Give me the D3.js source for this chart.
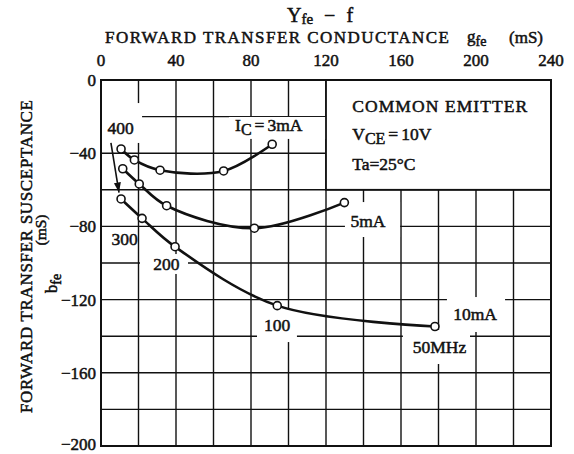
<!DOCTYPE html>
<html>
<head>
<meta charset="utf-8">
<script src="https://cdn.jsdelivr.net/npm/d3@7/dist/d3.min.js"></script>
<style>
    body { margin: 0; background: #fff; }
    text { font-family: 'Liberation Serif', 'Times New Roman', serif; fill: #111; stroke: #111; stroke-width: 0.5px; }
</style>
</head>
<body>
<svg id="chart" width="574" height="454"></svg>
<script>
// values (gfe, bfe in mS)
const gTicks = [0, 40, 80, 120, 160, 200, 240];
const bTicks = [0, -40, -80, -120, -160, -200];
const freqLabels = ['400', '300', '200', '100', '50MHz'];
const currents = ['3mA', '5mA', '10mA'];
const gfe3 = [10.7, 17.8, 31.5, 65.4, 91.3];
const bfe3 = [-37.7, -43.7, -49.3, -49.7, -35.1];
const gfe5 = [11.6, 20.4, 35.0, 81.8, 129.8];
const bfe5 = [-48.5, -56.8, -68.7, -81.0, -67.0];
const gfe10 = [10.7, 21.9, 39.5, 94.0, 178.1];
const bfe10 = [-65.0, -75.6, -91.1, -123.3, -134.7];

const series = [
    { name: currents[0], g: gfe3, b: bfe3 },
    { name: currents[1], g: gfe5, b: bfe5 },
    { name: currents[2], g: gfe10, b: bfe10 },
];

const svg = d3.select('#chart');
const x = d3.scaleLinear().domain([0, 240]).range([101, 551]);
const y = d3.scaleLinear().domain([0, -200]).range([80, 446]);

// grid every 20 mS
const grid = svg.append('g').attr('stroke', '#111').attr('stroke-width', 1.4);
grid.selectAll('.vx')
    .data(d3.range(20, 240, 20))
    .enter()
    .append('line')
    .attr('x1', function (d) { return x(d); })
    .attr('x2', function (d) { return x(d); })
    .attr('y1', y(0))
    .attr('y2', y(-200));
grid.selectAll('.hy')
    .data(d3.range(-20, -200, -20))
    .enter()
    .append('line')
    .attr('y1', function (d) { return y(d); })
    .attr('y2', function (d) { return y(d); })
    .attr('x1', x(0))
    .attr('x2', x(240));

// white patches behind labels (the scan breaks the grid there)
const gaps = [
    [0, 21.9, -12.6, -34.4],
    [68.3, 120, -20.2, -32.2],
    [130.1, 159.5, -66.7, -85.8],
    [184.5, 215.5, -118.6, -137.7],
    [161, 196.8, -136.6, -155.2],
    [83.2, 104.5, -125.7, -143.2],
    [3.7, 19.2, -81.4, -92.9],
    [20.8, 46.4, -95.1, -106],
];
svg.append('g')
    .selectAll('rect')
    .data(gaps)
    .enter()
    .append('rect')
    .attr('x', function (d) { return x(d[0]); })
    .attr('y', function (d) { return y(d[2]); })
    .attr('width', function (d) { return x(d[1]) - x(d[0]); })
    .attr('height', function (d) { return y(d[3]) - y(d[2]); })
    .attr('fill', '#fff');

// condition box
svg.append('rect')
    .attr('x', x(120))
    .attr('y', y(0))
    .attr('width', x(240) - x(120))
    .attr('height', y(-60) - y(0))
    .attr('fill', '#fff')
    .attr('stroke', '#111')
    .attr('stroke-width', 1.8);

// frame
svg.append('rect')
    .attr('x', x(0))
    .attr('y', y(0))
    .attr('width', x(240) - x(0))
    .attr('height', y(-200) - y(0))
    .attr('fill', 'none')
    .attr('stroke', '#111')
    .attr('stroke-width', 2);

// curves
const line = d3.line()
    .x(function (d) { return x(d[0]); })
    .y(function (d) { return y(d[1]); })
    .curve(d3.curveCatmullRom.alpha(0.5));

series.forEach(function (s) {
    const pts = s.g.map(function (g, i) { return [g, s.b[i]]; });
    svg.append('path')
        .attr('d', line(pts))
        .attr('fill', 'none')
        .attr('stroke', '#111')
        .attr('stroke-width', 2.6);
    svg.append('g')
        .selectAll('circle')
        .data(pts)
        .enter()
        .append('circle')
        .attr('cx', function (d) { return x(d[0]); })
        .attr('cy', function (d) { return y(d[1]); })
        .attr('r', 4)
        .attr('fill', '#fff')
        .attr('stroke', '#111')
        .attr('stroke-width', 1.6);
});

// frequency arrow
svg.append('defs')
    .append('marker')
    .attr('id', 'head')
    .attr('viewBox', '0 0 10 10')
    .attr('refX', 10)
    .attr('refY', 5)
    .attr('markerWidth', 10)
    .attr('markerHeight', 10)
    .attr('markerUnits', 'userSpaceOnUse')
    .attr('orient', 'auto')
    .append('path')
    .attr('d', 'M0,1.5L10,5L0,8.5Z')
    .attr('fill', '#111');
svg.append('line')
    .attr('x1', x(5.3))
    .attr('y1', y(-34.4))
    .attr('x2', x(9.6))
    .attr('y2', y(-61.5))
    .attr('stroke', '#111')
    .attr('stroke-width', 1.6)
    .attr('marker-end', 'url(#head)');

// tick labels
svg.append('g')
    .selectAll('text')
    .data(gTicks)
    .enter()
    .append('text')
    .attr('x', function (d) { return x(d); })
    .attr('y', 66)
    .attr('text-anchor', 'middle')
    .attr('font-size', 17)
    .text(function (d) { return d; });
svg.append('g')
    .selectAll('text')
    .data(bTicks)
    .enter()
    .append('text')
    .attr('x', 96)
    .attr('y', function (d) { return Math.min(y(d) + 6, 450); })
    .attr('text-anchor', 'end')
    .attr('font-size', 17)
    .text(function (d) { return d < 0 ? '\u2212' + Math.abs(d) : d; });

// frequency and current labels
const freqPos = [[10.4, -29.5], [12.6, -90.2], [34.9, -103.8], [93.9, -137.2], [180.5, -149.2]];
svg.append('g')
    .selectAll('text')
    .data(freqLabels)
    .enter()
    .append('text')
    .attr('x', function (d, i) { return x(freqPos[i][0]); })
    .attr('y', function (d, i) { return y(freqPos[i][1]); })
    .attr('text-anchor', 'middle')
    .attr('font-size', 17.5)
    .text(function (d) { return d; });

const ic = svg.append('text')
    .attr('x', x(71.5))
    .attr('y', y(-27.9))
    .attr('font-size', 17.5);
ic.append('tspan').text('I');
ic.append('tspan').attr('dy', 4).attr('font-size', 16).text('C');
ic.append('tspan').attr('dy', -4).attr('dx', 3).text('=');
ic.append('tspan').attr('dx', 3).text(currents[0]);

svg.append('text')
    .attr('x', x(142.4))
    .attr('y', y(-80.1))
    .attr('text-anchor', 'middle')
    .attr('font-size', 17.5)
    .text(currents[1]);
svg.append('text')
    .attr('x', x(199.5))
    .attr('y', y(-131.1))
    .attr('text-anchor', 'middle')
    .attr('font-size', 17.5)
    .text(currents[2]);

// conditions
svg.append('text')
    .attr('x', x(134))
    .attr('y', 111.5)
    .attr('font-size', 17.5)
    .attr('textLength', 175)
    .text('COMMON EMITTER');
const vce = svg.append('text')
    .attr('x', x(134))
    .attr('y', 140)
    .attr('font-size', 17.5);
vce.append('tspan').text('V');
vce.append('tspan').attr('dy', 4).attr('font-size', 16).text('CE');
vce.append('tspan').attr('dy', -4).attr('dx', 3).text('=');
vce.append('tspan').attr('dx', 3).text('10V');
svg.append('text')
    .attr('x', x(134))
    .attr('y', 169.5)
    .attr('font-size', 17.5)
    .text('Ta=25\u00b0C');

// titles
const title = svg.append('text')
    .attr('x', 287)
    .attr('y', 22)
    .attr('font-size', 20);
title.append('tspan').text('Y');
title.append('tspan').attr('dy', 2).attr('font-size', 15).text('fe');
title.append('tspan').attr('dy', -2).attr('dx', 11).text('\u2212');
title.append('tspan').attr('dx', 11).text('f');

svg.append('text')
    .attr('x', 105)
    .attr('y', 43)
    .attr('font-size', 17)
    .attr('textLength', 344)
    .text('FORWARD TRANSFER CONDUCTANCE');
const gLab = svg.append('text')
    .attr('x', 467)
    .attr('y', 42)
    .attr('font-size', 17);
gLab.append('tspan').text('g');
gLab.append('tspan').attr('dy', 4).attr('font-size', 14).text('fe');
svg.append('text')
    .attr('x', 509)
    .attr('y', 43)
    .attr('font-size', 17)
    .text('(mS)');

svg.append('text')
    .attr('transform', 'translate(32,413) rotate(-90)')
    .attr('font-size', 17)
    .attr('textLength', 313)
    .text('FORWARD TRANSFER SUSCEPTANCE');
svg.append('text')
    .attr('transform', 'translate(46,230) rotate(-90)')
    .attr('text-anchor', 'middle')
    .attr('font-size', 15.5)
    .text('(mS)');
const bLab = svg.append('text')
    .attr('transform', 'translate(57,293) rotate(-90)')
    .attr('font-size', 16.5);
bLab.append('tspan').text('b');
bLab.append('tspan').attr('dy', 4).attr('font-size', 14).text('fe');
</script>
</body>
</html>
